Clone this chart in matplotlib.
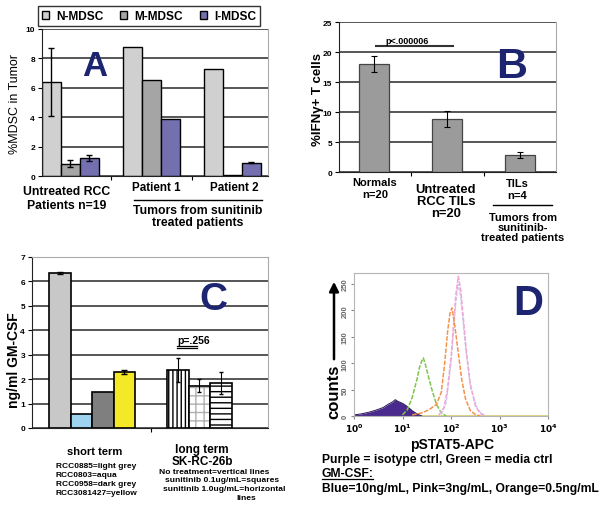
import numpy as np
import matplotlib
matplotlib.use('Agg')
from matplotlib import pyplot as plt
from matplotlib.lines import Line2D
from matplotlib.patches import Patch

plt.rcParams['font.family'] = ['Liberation Sans', 'DejaVu Sans']
plt.rcParams['font.weight'] = 'bold'
plt.rcParams['hatch.linewidth'] = 1.0

W, H = 602, 510

# ---- panel A data
a_groups = ['Untreated RCC\nPatients n=19', 'Patient 1', 'Patient 2']
a_series = ['N-MDSC', 'M-MDSC', 'I-MDSC']
a_vals = {'N-MDSC': [6.4, 8.75, 7.3],
          'M-MDSC': [0.85, 6.55, 0.05],
          'I-MDSC': [1.25, 3.85, 0.9]}
a_errs = {'N-MDSC': [2.3, 0, 0],
          'M-MDSC': [0.25, 0, 0],
          'I-MDSC': [0.2, 0, 0.04]}
a_colors = ['#d0d0d0', '#a5a5a5', '#7470b0']

# ---- panel B data
b_groups = ['Normals\nn=20', 'Untreated\nRCC TILs\nn=20', 'TILs\nn=4']
b_vals = [18.0, 8.8, 2.8]
b_errs = [1.4, 1.3, 0.5]

# ---- panel C data
c_short_names = ['RCC0885', 'RCC0803', 'RCC0958', 'RCC3081427']
c_short_vals = [6.33, 0.56, 1.47, 2.3]
c_short_errs = [0.04, 0, 0, 0.07]
c_long_names = ['No treatment', 'sunitinib 0.1ug/mL', 'sunitinib 1.0ug/mL']
c_long_vals = [2.38, 1.73, 1.84]
c_long_errs = [0.5, 0.26, 0.45]

# ---- panel D data (log10 of pSTAT5-APC, counts)
purple_x = [0.0, 0.15, 0.3, 0.45, 0.6, 0.7, 0.8, 0.85, 0.9, 1.0, 1.1, 1.2, 1.3, 1.4]
purple_y = [2, 4, 7, 11, 16, 22, 27, 31, 28, 24, 18, 10, 4, 0]
green_x = [1.0, 1.1, 1.2, 1.3, 1.35, 1.4, 1.43, 1.47, 1.52, 1.6, 1.7, 1.8, 1.9]
green_y = [2, 12, 35, 70, 92, 105, 110, 98, 80, 52, 22, 6, 0]
orange_x = [1.2, 1.4, 1.55, 1.7, 1.8, 1.87, 1.93, 1.98, 2.02, 2.08, 2.15, 2.22, 2.3, 2.4, 2.5, 2.6]
orange_y = [2, 6, 12, 22, 45, 100, 160, 195, 205, 170, 120, 70, 32, 10, 3, 0]
pink_x = [1.75, 1.85, 1.92, 2.0, 2.05, 2.1, 2.15, 2.2, 2.25, 2.32, 2.4, 2.5, 2.6, 2.7]
pink_y = [2, 15, 45, 110, 170, 230, 265, 240, 190, 120, 60, 20, 5, 0]
blue_x = [1.8, 1.9, 2.0, 2.1, 2.15, 2.2, 2.3, 2.4, 2.55, 2.7]
blue_y = [3, 25, 100, 215, 250, 225, 130, 55, 12, 0]


def fx(x):
	return x / W


def fy(y):
	return 1 - y / H


def hline(fig, x0, x1, y, lw=1.0, color='black'):
	fig.add_artist(Line2D([fx(x0), fx(x1)], [fy(y), fy(y)], transform=fig.transFigure, lw=lw, color=color))


def style_bar_axes(ax):
	ax.set_axisbelow(True)
	ax.yaxis.grid(True, color='#3a3a3a', lw=1.2)
	ax.spines['left'].set_color('#222222')
	ax.spines['bottom'].set_color('#222222')
	ax.spines['right'].set_color('#aaaaaa')
	ax.spines['top'].set_visible(False)
	ax.tick_params(axis='y', labelsize=6, length=3, width=0.8, pad=2)
	ax.tick_params(axis='x', length=3, width=0.8, labelbottom=False)


fig = plt.figure(figsize=(W / 100, H / 100), dpi=100)

# ================= A
axA = fig.add_axes([fx(42), fy(177), fx(226), 147 / H])
style_bar_axes(axA)
bw = 0.235
xg = np.arange(len(a_groups))
for i, s in enumerate(a_series):
	axA.bar(xg + (i - 1) * bw, a_vals[s], bw, color=a_colors[i], edgecolor='black', lw=1.0, zorder=2)
	errs = np.array(a_errs[s])
	m = errs > 0
	axA.errorbar((xg + (i - 1) * bw)[m], np.array(a_vals[s])[m], yerr=errs[m], fmt='none',
				 ecolor='black', elinewidth=1.0, capsize=2, capthick=1.0, zorder=3)
axA.set_xlim(-0.35, 2.44)
axA.set_ylim(0, 10)
axA.set_yticks([0, 2, 4, 6, 8, 10])
axA.set_xticks([0.5, 1.5])
axA.set_ylabel('%MDSC in Tumor', fontsize=9, labelpad=3)
axA.text(0.3, 7.55, 'A', fontsize=25, fontweight='heavy', color='#1d2570', ha='center', va='center')

handles = [Patch(facecolor=c, edgecolor='black', lw=1.0) for c in a_colors]
fig.legend(handles, a_series, loc='center', bbox_to_anchor=(fx(149), fy(17)), ncol=3,
		   fontsize=8.6, frameon=True, fancybox=False, edgecolor='black', handlelength=0.6,
		   handleheight=0.6, handletextpad=0.6, columnspacing=1.4, borderpad=0.3)

fig.text(fx(67), fy(199), a_groups[0], fontsize=8.8, ha='center', va='center', linespacing=1.2)
fig.text(fx(156), fy(188), a_groups[1], fontsize=8.4, ha='center', va='center')
fig.text(fx(234), fy(188), a_groups[2], fontsize=8.4, ha='center', va='center')
hline(fig, 134, 262, 201)
fig.text(fx(198), fy(217), 'Tumors from sunitinib\ntreated patients', fontsize=8.8, ha='center', va='center',
		 linespacing=1.1)

# ================= B
axB = fig.add_axes([fx(339), fy(173), fx(217), 150 / H])
style_bar_axes(axB)
xb = np.arange(len(b_groups))
axB.bar(xb, b_vals, 0.41, color='#9b9b9b', edgecolor='#444444', lw=0.9, zorder=2)
axB.errorbar(xb, b_vals, yerr=b_errs, fmt='none', ecolor='black', elinewidth=0.8, capsize=2,
			 capthick=0.8, zorder=3)
axB.set_xlim(-0.48, 2.49)
axB.set_ylim(0, 25)
axB.set_yticks([0, 5, 10, 15, 20, 25])
axB.set_xticks([0.5, 1.5])
fig.text(fx(318), fy(100), '%IFN\u03b3+ T cells', fontsize=9.5, rotation=90, ha='center', va='center')
axB.text(1.88, 17.6, 'B', fontsize=31, fontweight='heavy', color='#1d2570', ha='center', va='center')

fig.text(fx(407), fy(41), 'p<.000006', fontsize=6.5, ha='center', va='center')
hline(fig, 376, 453, 47, lw=1.5, color='#333333')
fig.text(fx(375), fy(189), b_groups[0], fontsize=8, ha='center', va='center', linespacing=1.15)
fig.text(fx(446), fy(202), b_groups[1], fontsize=9.4, ha='center', va='center', linespacing=1.05)
fig.text(fx(517), fy(190), b_groups[2], fontsize=8, ha='center', va='center', linespacing=1.15)
hline(fig, 493, 552, 206)
fig.text(fx(523), fy(228), 'Tumors from\nsunitinib-\ntreated patients', fontsize=8, ha='center',
		 va='center', linespacing=1.0)

# ================= C
axC = fig.add_axes([fx(32), fy(429), fx(236), 171 / H])
style_bar_axes(axC)
axC.spines['top'].set_visible(True)
axC.spines['top'].set_color('#aaaaaa')
cw = 0.182
c_colors = ['#c8c8c8', '#9fd4f0', '#7f7f7f', '#f5e826']
for i in range(4):
	axC.bar(0 + (i - 1.5) * cw, c_short_vals[i], cw, color=c_colors[i], edgecolor='black', lw=1.2, zorder=2)
	if c_short_errs[i] > 0:
		axC.errorbar(0 + (i - 1.5) * cw, c_short_vals[i], yerr=c_short_errs[i], fmt='none', ecolor='black',
					 elinewidth=1.0, capsize=2, zorder=3)
hatches = ['||||', '++', '---']
hatch_cols = ['black', '#b0b0b0', 'black']
for i in range(3):
	x = 1 + (i - 1.5) * cw
	axC.bar(x, c_long_vals[i], cw, color='white', edgecolor=hatch_cols[i], hatch=hatches[i], lw=0, zorder=2)
	axC.bar(x, c_long_vals[i], cw, color='none', edgecolor='black', lw=1.2, zorder=2)
	axC.errorbar(x, c_long_vals[i], yerr=c_long_errs[i], fmt='none', ecolor='black', elinewidth=0.8,
				 capsize=1.5, zorder=3)
axC.set_xlim(-0.508, 1.49)
axC.set_ylim(0, 7)
axC.set_yticks(range(8))
axC.set_xticks([0.5])
fig.text(fx(14), fy(360), 'ng/ml GM-CSF', fontsize=10, rotation=90, ha='center', va='center')
axC.text(1.03, 5.3, 'C', fontsize=28, fontweight='heavy', color='#1d2570', ha='center', va='center')

fig.text(fx(177), fy(341), 'p=.256', fontsize=7.5, ha='left', va='center')
hline(fig, 177, 197, 347, lw=0.9)
hline(fig, 177, 197, 349, lw=0.9)

fig.text(fx(95), fy(452), 'short term', fontsize=8, ha='center', va='center')
c_short_desc = ['light grey', 'aqua', 'dark grey', 'yellow']
for k, (n, d) in enumerate(zip(c_short_names, c_short_desc)):
	fig.text(fx(56), fy(467 + k * 8.7), n + '=' + d, fontsize=6, ha='left', va='center')
fig.text(fx(202), fy(456), 'long term\nSK-RC-26b', fontsize=8.5, ha='center', va='center', linespacing=1.05)
c_long_desc = ['vertical lines', 'squares', 'horizontal']
c_long_x = [159, 165, 163]
for k, (n, d) in enumerate(zip(c_long_names, c_long_desc)):
	fig.text(fx(c_long_x[k]), fy(472 + k * 8.7), n + '=' + d, fontsize=6.1, ha='left', va='center')
fig.text(fx(236), fy(499), 'lines', fontsize=6.1, ha='left', va='center')

# ================= D
axD = fig.add_axes([fx(354), fy(417), fx(194), 143 / H])
axD.set_xscale('log')
for sp in axD.spines.values():
	sp.set_color('#b5b5b5')
axD.fill_between(10 ** np.array(purple_x), purple_y, 0, color='#4a2a8c', lw=0, zorder=2)
axD.plot(10 ** np.array(purple_x), purple_y, color='#2a1a55', lw=0.7, zorder=2)
axD.plot(10 ** np.array(green_x), green_y, color='#7dc64a', lw=1.1, ls=(0, (3, 1)), zorder=3)
axD.plot(10 ** np.array(blue_x), blue_y, color='#c9c9ef', lw=0.9, ls=(0, (3, 1)), zorder=3)
axD.plot(10 ** np.array(pink_x), pink_y, color='#f0a6d6', lw=1.1, ls=(0, (3, 1)), zorder=3)
axD.plot(10 ** np.array(orange_x), orange_y, color='#f5934a', lw=1.1, ls=(0, (3, 1)), zorder=4)
axD.plot([1, 1e4], [1, 1], color='#d8d070', lw=0.6, zorder=1)
axD.set_xlim(1, 1e4)
axD.set_ylim(0, 271)
axD.set_xticks([1, 10, 100, 1000, 10000])
axD.set_xticklabels(['$10^{0}$', '$10^{1}$', '$10^{2}$', '$10^{3}$', '$10^{4}$'])
axD.xaxis.set_minor_locator(matplotlib.ticker.NullLocator())
axD.set_yticks([0, 50, 100, 150, 200, 250])
axD.tick_params(axis='x', labelsize=6.5, length=2, color='#888888', pad=2)
axD.tick_params(axis='y', labelsize=5.5, length=2, color='#888888', labelcolor='#666666', pad=2,
				labelrotation=90)
for t in axD.get_yticklabels():
	t.set_va('center')
axD.text(8000, 215, 'D', fontsize=30, fontweight='heavy', color='#1d2570', ha='right', va='center')

fig.text(fx(334), fy(392), 'counts', fontsize=12, rotation=90, ha='center', va='center')
axD.annotate('', xy=(fx(334), fy(280)), xycoords='figure fraction', xytext=(fx(334), fy(363)),
			 textcoords='figure fraction',
			 arrowprops=dict(arrowstyle='-|>', lw=1.8, color='black', mutation_scale=14))
fig.text(fx(452), fy(445), 'pSTAT5-APC', fontsize=10, ha='center', va='center')
fig.text(fx(322), fy(460), 'Purple = isotype ctrl, Green = media ctrl', fontsize=8.7, ha='left', va='center')
fig.text(fx(322), fy(474), 'GM-CSF:', fontsize=8.7, ha='left', va='center')
hline(fig, 322, 373, 480, lw=0.9)
fig.text(fx(322), fy(489), 'Blue=10ng/mL, Pink=3ng/mL, Orange=0.5ng/mL', fontsize=8.7, ha='left', va='center')

fig.savefig('out.png', dpi=100)
